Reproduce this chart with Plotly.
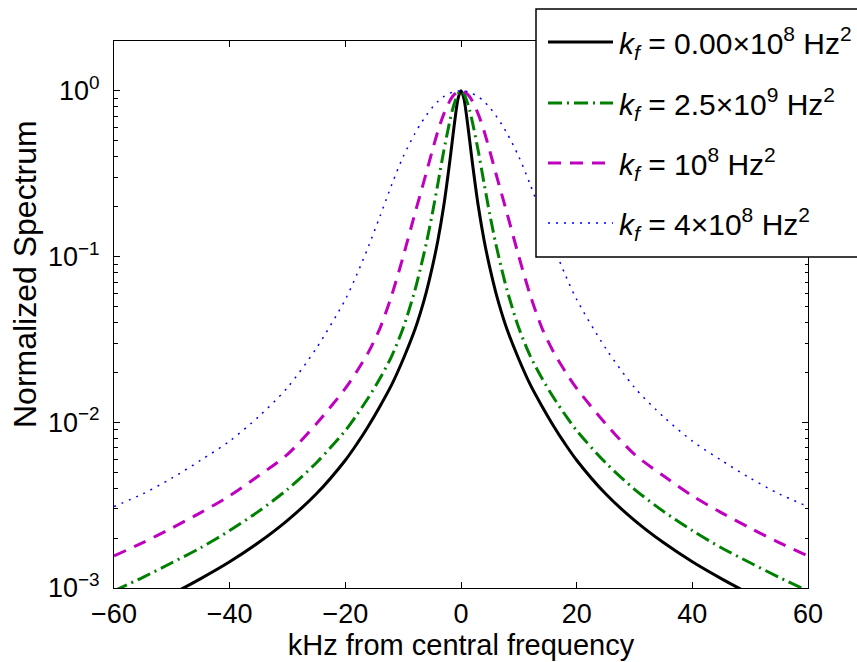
import plotly.graph_objects as go

# ---------------- data ----------------
freq_khz = [-60, -55, -50, -45, -40, -35, -30, -25, -20, -18, -16, -14, -12, -10, -8, -7, -6, -5, -4, -3, -2, -1.5, -1, -0.5,
            0, 0.5, 1, 1.5, 2, 3, 4, 5, 6, 7, 8, 10, 12, 14, 16, 18, 20, 25, 30, 35, 40, 45, 50, 55, 60]

spec_kf_0 = [0.00064, 0.00076, 0.00092, 0.00114, 0.00144, 0.00188, 0.00256, 0.0037, 0.0059, 0.0074, 0.0095, 0.0125, 0.0168,
             0.024, 0.036, 0.046, 0.061, 0.085, 0.125, 0.20, 0.36, 0.50, 0.69, 0.90,
             1.0, 0.90, 0.69, 0.50, 0.36, 0.20, 0.125, 0.085, 0.061, 0.046, 0.036, 0.024, 0.0168, 0.0125, 0.0095,
             0.0074, 0.0059, 0.0037, 0.00256, 0.00188, 0.00144, 0.00114, 0.00092, 0.00076, 0.00064]

spec_kf_25e9 = [0.00096, 0.00116, 0.00142, 0.00175, 0.00222, 0.0029, 0.00394, 0.0057, 0.0089, 0.0111, 0.0141, 0.0184, 0.025,
                0.037, 0.062, 0.085, 0.120, 0.178, 0.275, 0.43, 0.64, 0.76, 0.87, 0.96,
                1.0, 0.96, 0.87, 0.76, 0.64, 0.43, 0.275, 0.178, 0.120, 0.085, 0.062, 0.037, 0.025, 0.0184, 0.0141,
                0.0111, 0.0089, 0.0057, 0.00394, 0.0029, 0.00222, 0.00175, 0.00142, 0.00116, 0.00096]

spec_kf_1e8 = [0.00156, 0.00188, 0.0023, 0.00285, 0.0036, 0.00475, 0.0064, 0.0098, 0.0160, 0.0203, 0.0265, 0.037, 0.058,
               0.100, 0.18, 0.24, 0.32, 0.43, 0.57, 0.72, 0.86, 0.92, 0.96, 0.99,
               1.0, 0.99, 0.96, 0.92, 0.86, 0.72, 0.57, 0.43, 0.32, 0.24, 0.18, 0.100, 0.058, 0.037, 0.0265,
               0.0203, 0.0160, 0.0098, 0.0064, 0.00475, 0.0036, 0.00285, 0.0023, 0.00188, 0.00156]

spec_kf_4e8 = [0.0031, 0.0037, 0.0046, 0.0059, 0.0077, 0.0108, 0.0162, 0.028, 0.055, 0.078, 0.115, 0.175, 0.27,
               0.40, 0.55, 0.63, 0.71, 0.79, 0.86, 0.92, 0.96, 0.98, 0.99, 0.997,
               1.0, 0.997, 0.99, 0.98, 0.96, 0.92, 0.86, 0.79, 0.71, 0.63, 0.55, 0.40, 0.27, 0.175, 0.115,
               0.078, 0.055, 0.028, 0.0162, 0.0108, 0.0077, 0.0059, 0.0046, 0.0037, 0.0031]

series_labels = [
    "<i>k</i><sub><i>f</i></sub> = 0.00×10<sup>8</sup> Hz<sup>2</sup>",
    "<i>k</i><sub><i>f</i></sub> = 2.5×10<sup>9</sup> Hz<sup>2</sup>",
    "<i>k</i><sub><i>f</i></sub> = 10<sup>8</sup> Hz<sup>2</sup>",
    "<i>k</i><sub><i>f</i></sub> = 4×10<sup>8</sup> Hz<sup>2</sup>",
]

x_ticks = [-60, -40, -20, 0, 20, 40, 60]
y_ticks = [1e-3, 1e-2, 1e-1, 1]
y_ticktext = ["10<sup>−3</sup>", "10<sup>−2</sup>", "10<sup>−1</sup>", "10<sup>0</sup>"]
x_title = "kHz from central frequency"
y_title = "Normalized Spectrum"

# ---------------- styling ----------------
series = [spec_kf_0, spec_kf_25e9, spec_kf_1e8, spec_kf_4e8]
colors = ["#000000", "#008000", "#BF00BF", "#0000FF"]
dashes = ["solid", "14px,5px,2px,5px", "13px,9px", "2px,6px"]
widths = [3, 3, 3, 1.5]
FONT = "Liberation Sans, Arial, Helvetica, sans-serif"

W, H = 857, 662
L, R, T, B = 114, 49, 41, 74
PW, PH = W - L - R, H - T - B


def px(x):
    return (x - L) / PW


def py(y):
    return (H - B - y) / PH


fig = go.Figure()
for ys, c, d, w, name in zip(series, colors, dashes, widths, series_labels):
    fig.add_trace(go.Scatter(
        x=freq_khz, y=ys, mode="lines", name=name,
        line=dict(color=c, dash=d, width=w, shape="spline", smoothing=0.8),
        showlegend=False, hoverinfo="skip"))

# custom legend (box, samples, texts)
shapes = [dict(type="rect", xref="paper", yref="paper", x0=px(536), x1=px(880), y0=py(257), y1=py(9),
               fillcolor="white", line=dict(color="black", width=1.5), layer="above")]
annotations = []
row_y = [42, 103, 163, 223]
for ry, c, d, w, name in zip(row_y, colors, dashes, widths, series_labels):
    shapes.append(dict(type="line", xref="paper", yref="paper", x0=px(548), x1=px(613), y0=py(ry), y1=py(ry),
                       line=dict(color=c, dash=d, width=w), layer="above"))
    annotations.append(dict(xref="paper", yref="paper", x=px(617), y=py(ry), xanchor="left", yanchor="middle",
                            yshift=-1, text=name, showarrow=False,
                            font=dict(family=FONT, size=30, color="black")))

# y-axis title as rotated text (placed like the reference)
annotations.append(dict(xref="paper", yref="paper", x=px(25), y=py(274), xanchor="center", yanchor="middle",
                        text=y_title, textangle=-90, showarrow=False,
                        font=dict(family=FONT, size=32, color="black")))

fig.update_layout(
    width=W, height=H,
    margin=dict(l=L, r=R, t=T, b=B, pad=0),
    paper_bgcolor="white", plot_bgcolor="white",
    font=dict(family=FONT, color="black"),
    shapes=shapes, annotations=annotations,
    showlegend=False,
)
fig.update_xaxes(
    range=[-60, 60], tickmode="array", tickvals=x_ticks, automargin=False,
    ticks="inside", ticklen=6, tickwidth=1, tickcolor="black",
    showline=True, linecolor="black", linewidth=1, mirror="ticks",
    showgrid=False, zeroline=False,
    tickfont=dict(size=27), ticklabelstandoff=2,
    title=dict(text=x_title, font=dict(size=29), standoff=1),
)
minor_vals = [m * 10 ** e for e in (-3, -2, -1) for m in range(2, 10)] + [2]
fig.update_yaxes(
    type="log", range=[-3, 0.3], tickmode="array", tickvals=y_ticks, ticktext=y_ticktext, automargin=False,
    ticks="inside", ticklen=6, tickwidth=1, tickcolor="black",
    minor=dict(tickmode="array", tickvals=minor_vals, ticks="inside", ticklen=3.5, tickwidth=1, tickcolor="black"),
    showline=True, linecolor="black", linewidth=1, mirror="ticks",
    showgrid=False, zeroline=False,
    tickfont=dict(size=27), ticklabelstandoff=8,
)

fig.write_html("out.html")
